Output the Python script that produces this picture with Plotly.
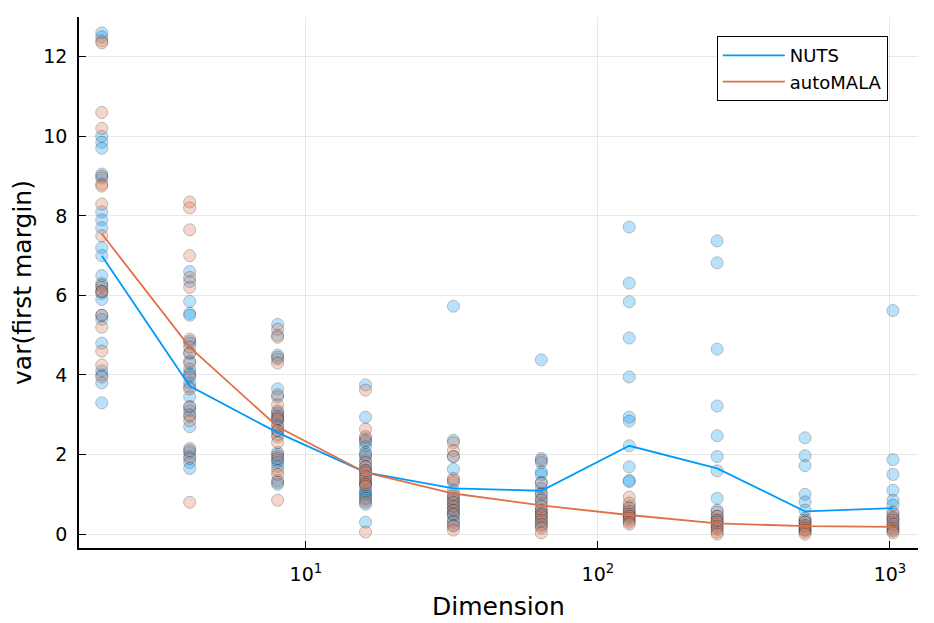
import plotly.graph_objects as go

dims = [2, 4, 8, 16, 32, 64, 128, 256, 512, 1024]

# per-run variance estimates
nuts_runs = {
    2: [12.6, 12.5, 10.0, 9.85, 9.7, 9.05, 8.95, 8.1, 7.9, 7.7, 7.2, 7.0, 6.5,
        6.3, 6.2, 6.05, 5.9, 5.5, 5.4, 4.8, 4.1, 4.0, 3.8, 3.3],
    4: [6.6, 6.35, 5.85, 5.55, 5.5, 4.85, 4.8, 4.55, 4.35, 4.15, 4.05, 3.95,
        3.8, 3.7, 3.45, 3.2, 3.1, 2.95, 2.7, 2.15, 2.05, 1.95, 1.8, 1.65],
    8: [5.27, 5.0, 4.5, 4.4, 3.65, 3.45, 3.1, 3.0, 2.9, 2.85, 2.75, 2.6, 2.5,
        2.05, 1.95, 1.85, 1.8, 1.7, 1.35, 1.25],
    16: [3.75, 2.94, 2.4, 2.3, 2.2, 2.05, 1.95, 1.85, 1.7, 1.6, 1.5, 1.35,
         1.25, 1.1, 1.05, 1.0, 0.95, 0.85, 0.75, 0.3],
    32: [5.73, 2.36, 1.95, 1.63, 1.3, 1.1, 0.95, 0.85, 0.78, 0.68, 0.6, 0.52,
         0.45, 0.35, 0.22],
    64: [4.38, 1.9, 1.8, 1.57, 1.5, 1.3, 1.15, 1.03, 0.9, 0.78, 0.6, 0.52,
         0.4, 0.3, 0.2],
    128: [7.72, 6.31, 5.84, 4.93, 3.95, 2.94, 2.84, 2.22, 1.69, 1.35, 1.32,
          0.7, 0.55, 0.45, 0.35],
    256: [7.37, 6.82, 4.65, 3.22, 2.47, 1.95, 1.59, 0.9, 0.6, 0.45, 0.35,
          0.25, 0.15],
    512: [2.42, 1.97, 1.72, 1.0, 0.81, 0.6, 0.4, 0.3, 0.2, 0.1],
    1024: [5.62, 1.87, 1.5, 1.1, 0.85, 0.73, 0.5, 0.4, 0.3, 0.2, 0.1],
}

automala_runs = {
    2: [12.4, 12.35, 10.6, 10.2, 9.0, 8.8, 8.75, 8.3, 7.5, 6.25, 6.1, 6.1,
        5.5, 5.2, 4.6, 4.25, 3.95],
    4: [8.35, 8.2, 7.65, 7.0, 6.45, 6.2, 4.9, 4.7, 4.55, 4.3, 4.0, 3.65, 3.2,
        3.0, 2.85, 2.1, 1.9, 0.8],
    8: [5.15, 4.95, 4.45, 4.3, 3.5, 3.25, 3.05, 2.95, 2.9, 2.7, 2.6, 2.45,
        2.3, 2.0, 1.9, 1.6, 1.5, 1.3, 0.85],
    16: [3.62, 2.64, 2.45, 2.35, 2.0, 1.8, 1.7, 1.6, 1.55, 1.45, 1.4, 1.3,
         1.25, 1.2, 0.9, 0.8, 0.05],
    32: [2.3, 2.1, 1.95, 1.4, 1.35, 1.0, 0.9, 0.8, 0.7, 0.6, 0.5, 0.3, 0.2,
         0.1],
    64: [1.85, 1.28, 1.0, 0.85, 0.7, 0.6, 0.5, 0.45, 0.35, 0.25, 0.15, 0.03],
    128: [0.93, 0.78, 0.65, 0.58, 0.5, 0.45, 0.4, 0.3, 0.25],
    256: [0.55, 0.45, 0.35, 0.3, 0.2, 0.12, 0.05, 0.0],
    512: [0.35, 0.3, 0.22, 0.15, 0.1, 0.05, 0.0],
    1024: [0.55, 0.42, 0.35, 0.25, 0.15, 0.08, 0.03],
}

# mean curves as drawn
nuts_mean = [7.0, 3.72, 2.55, 1.55, 1.15, 1.09, 2.22, 1.65, 0.57, 0.65]
automala_mean = [7.55, 4.7, 2.7, 1.55, 1.02, 0.72, 0.48, 0.27, 0.2, 0.18]

BLUE = "#009AFA"
ORANGE = "#E26F46"


def flatten(runs):
    xs, ys = [], []
    for d in dims:
        for v in runs[d]:
            xs.append(d)
            ys.append(v)
    return xs, ys


fig = go.Figure()

for runs, col in [(nuts_runs, BLUE), (automala_runs, ORANGE)]:
    xs, ys = flatten(runs)
    fig.add_trace(go.Scatter(
        x=xs, y=ys, mode="markers", showlegend=False, hoverinfo="skip",
        marker=dict(size=12, color=col, opacity=0.28,
                    line=dict(color="black", width=1)),
    ))

fig.add_trace(go.Scatter(x=dims, y=nuts_mean, mode="lines", name="NUTS",
                         line=dict(color=BLUE, width=1.8)))
fig.add_trace(go.Scatter(x=dims, y=automala_mean, mode="lines", name="autoMALA",
                         line=dict(color=ORANGE, width=1.8)))

# page body adds 8px, so margins are trimmed to keep the plot box in place
fig.update_layout(
    width=934, height=623,
    margin=dict(l=71, r=24, t=9, b=83, autoexpand=False),
    plot_bgcolor="white", paper_bgcolor="white",
    font=dict(family="DejaVu Sans", size=19, color="black"),
    legend=dict(x=0.964, y=0.964, xanchor="right", yanchor="top",
                bordercolor="black", borderwidth=1, bgcolor="white",
                font=dict(size=18), tracegroupgap=0, itemwidth=62),
)

fig.update_xaxes(
    type="log", range=[0.223, 3.096],
    tickvals=[10, 100, 1000],
    ticktext=["10<sup>1</sup>", "10<sup>2</sup>", "10<sup>3</sup>"],
    ticks="inside", ticklen=7, tickcolor="black", ticklabelstandoff=8,
    showline=True, linecolor="black", linewidth=1.5, mirror=False,
    showgrid=True, gridcolor="rgba(0,0,0,0.09)", zeroline=False,
    title_text="Dimension", title_font=dict(size=25), title_standoff=14,
)

fig.update_yaxes(
    range=[-0.35, 13.0],
    tickvals=[0, 2, 4, 6, 8, 10, 12],
    ticks="inside", ticklen=7, tickcolor="black", ticklabelstandoff=6,
    showline=True, linecolor="black", linewidth=1.5, mirror=False,
    showgrid=True, gridcolor="rgba(0,0,0,0.09)", zeroline=False,
    title_text="var(first margin)", title_font=dict(size=25), title_standoff=14,
)

fig.write_html("out.html")
